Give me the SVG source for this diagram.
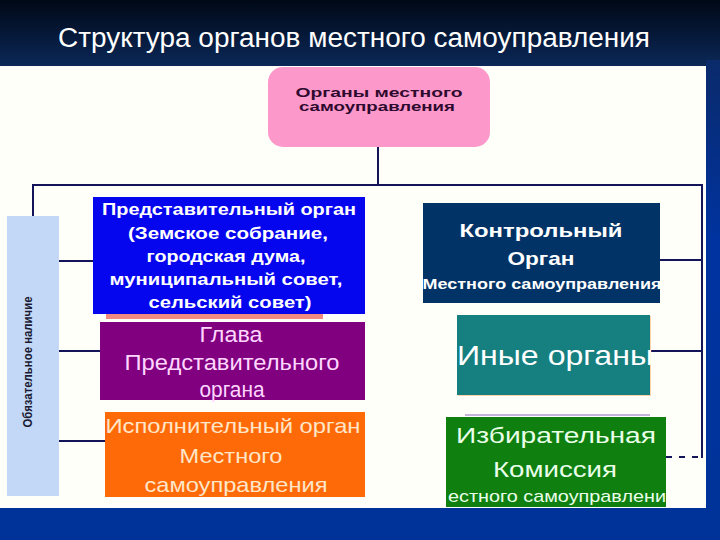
<svg xmlns="http://www.w3.org/2000/svg" width="720" height="540" viewBox="0 0 720 540">
<defs>
<linearGradient id="topg" x1="0" y1="0" x2="0" y2="1">
<stop offset="0" stop-color="#000816"/>
<stop offset="1" stop-color="#0b2858"/>
</linearGradient>
<linearGradient id="sideg" x1="0" y1="0" x2="0" y2="1">
<stop offset="0" stop-color="#0a2a6a"/>
<stop offset="0.4" stop-color="#0033a0"/>
<stop offset="1" stop-color="#003399"/>
</linearGradient>
<style>
text{font-family:"Liberation Sans",Arial,sans-serif;text-anchor:middle}
.b{font-weight:bold}
.ln{stroke:#14145a;stroke-width:2;fill:none}
</style>
</defs>
<rect x="0" y="0" width="720" height="540" fill="#003399"/>
<rect x="0" y="0" width="720" height="66" fill="url(#topg)"/>
<rect x="706" y="60" width="14" height="450" fill="url(#sideg)"/>
<rect x="0" y="66" width="706" height="442" fill="#fffffa"/>
<text x="354" y="47" font-size="27" fill="#ffffff" textLength="592" lengthAdjust="spacingAndGlyphs">Структура органов местного самоуправления</text>

<g id="connectors">
<line class="ln" x1="378" y1="147" x2="378" y2="185"/>
<line class="ln" x1="32" y1="185" x2="703" y2="185"/>
<line class="ln" x1="33" y1="184" x2="33" y2="216"/>
<line class="ln" x1="702" y1="184" x2="702" y2="458"/>
<line class="ln" x1="59" y1="261" x2="93" y2="261"/>
<line class="ln" x1="59" y1="351" x2="100" y2="351" stroke-width="1.5"/>
<line class="ln" x1="59" y1="441" x2="105" y2="441" stroke-width="2.5"/>
<line class="ln" x1="660" y1="260" x2="702" y2="260"/>
<line class="ln" x1="650" y1="351" x2="702" y2="351" stroke-width="1.5"/>
<line class="ln" x1="666" y1="457" x2="703" y2="457" stroke-dasharray="6 7"/>
</g>

<g id="label">
<rect x="7" y="216" width="52" height="280" fill="#c2d8f6"/>
<text class="b" transform="translate(32,362) rotate(-90)" font-size="12" fill="#1a1a33" textLength="131" lengthAdjust="spacingAndGlyphs">Обязательное наличие</text>
</g>

<g id="root">
<rect x="268" y="67" width="222" height="80" rx="15" fill="#fd98cb"/>
<text class="b" x="379" y="97" font-size="13.5" fill="#2e0a2e" textLength="167" lengthAdjust="spacingAndGlyphs">Органы местного</text>
<text class="b" x="377" y="111" font-size="13.5" fill="#2e0a2e" textLength="156" lengthAdjust="spacingAndGlyphs">самоуправления</text>
</g>

<g id="representative">
<rect x="106" y="313" width="217" height="6" fill="#f08a80"/>
<rect x="93" y="197" width="272" height="117" fill="#0505ee"/>
<g class="b" font-size="17" fill="#ffffff">
<text x="229" y="215" textLength="254" lengthAdjust="spacingAndGlyphs">Представительный орган</text>
<text x="228" y="239" textLength="200" lengthAdjust="spacingAndGlyphs">(Земское собрание,</text>
<text x="226" y="262" textLength="159" lengthAdjust="spacingAndGlyphs">городская дума,</text>
<text x="226" y="285" textLength="233" lengthAdjust="spacingAndGlyphs">муниципальный совет,</text>
<text x="230" y="308" textLength="163" lengthAdjust="spacingAndGlyphs">сельский совет)</text>
</g>
</g>

<g id="head">
<rect x="100" y="322" width="265" height="78" fill="#800080"/>
<g font-size="22" fill="#ffd6ff">
<text x="231" y="342" textLength="63" lengthAdjust="spacingAndGlyphs">Глава</text>
<text x="232" y="370" textLength="215" lengthAdjust="spacingAndGlyphs">Представительного</text>
<text x="232" y="397" textLength="65" lengthAdjust="spacingAndGlyphs">органа</text>
</g>
</g>

<g id="executive">
<rect x="105" y="412" width="260" height="85" fill="#ff6a08"/>
<g font-size="21" fill="#ffe6c8">
<text x="233" y="433" textLength="255" lengthAdjust="spacingAndGlyphs">Исполнительный орган</text>
<text x="231" y="463" textLength="103" lengthAdjust="spacingAndGlyphs">Местного</text>
<text x="236" y="492" textLength="183" lengthAdjust="spacingAndGlyphs">самоуправления</text>
</g>
</g>

<g id="control">
<rect x="423" y="203" width="237" height="100" fill="#023366"/>
<g class="b" fill="#ffffff">
<text x="541" y="237" font-size="19" textLength="163" lengthAdjust="spacingAndGlyphs">Контрольный</text>
<text x="541" y="265" font-size="19" textLength="67" lengthAdjust="spacingAndGlyphs">Орган</text>
<text x="542" y="289" font-size="15" textLength="239" lengthAdjust="spacingAndGlyphs">Местного самоуправления</text>
</g>
</g>

<g id="other">
<rect x="458" y="316" width="193" height="80" fill="#ffd2a8"/>
<rect x="457" y="315" width="193" height="80" fill="#15807f"/>
<text x="555" y="365" font-size="28" fill="#ffffff" textLength="196" lengthAdjust="spacingAndGlyphs">Иные органы</text>
</g>

<g id="election">
<rect x="465" y="414" width="185" height="2" fill="#c4b4dc"/>
<rect x="446" y="417" width="220" height="90" fill="#0f800f"/>
<g fill="#eaffea">
<text x="556" y="443" font-size="22" textLength="200" lengthAdjust="spacingAndGlyphs">Избирательная</text>
<text x="555" y="477" font-size="22" textLength="124" lengthAdjust="spacingAndGlyphs">Комиссия</text>
<text x="557" y="502" font-size="17" textLength="218" lengthAdjust="spacingAndGlyphs">естного самоуправлени</text>
</g>
</g>
</svg>
